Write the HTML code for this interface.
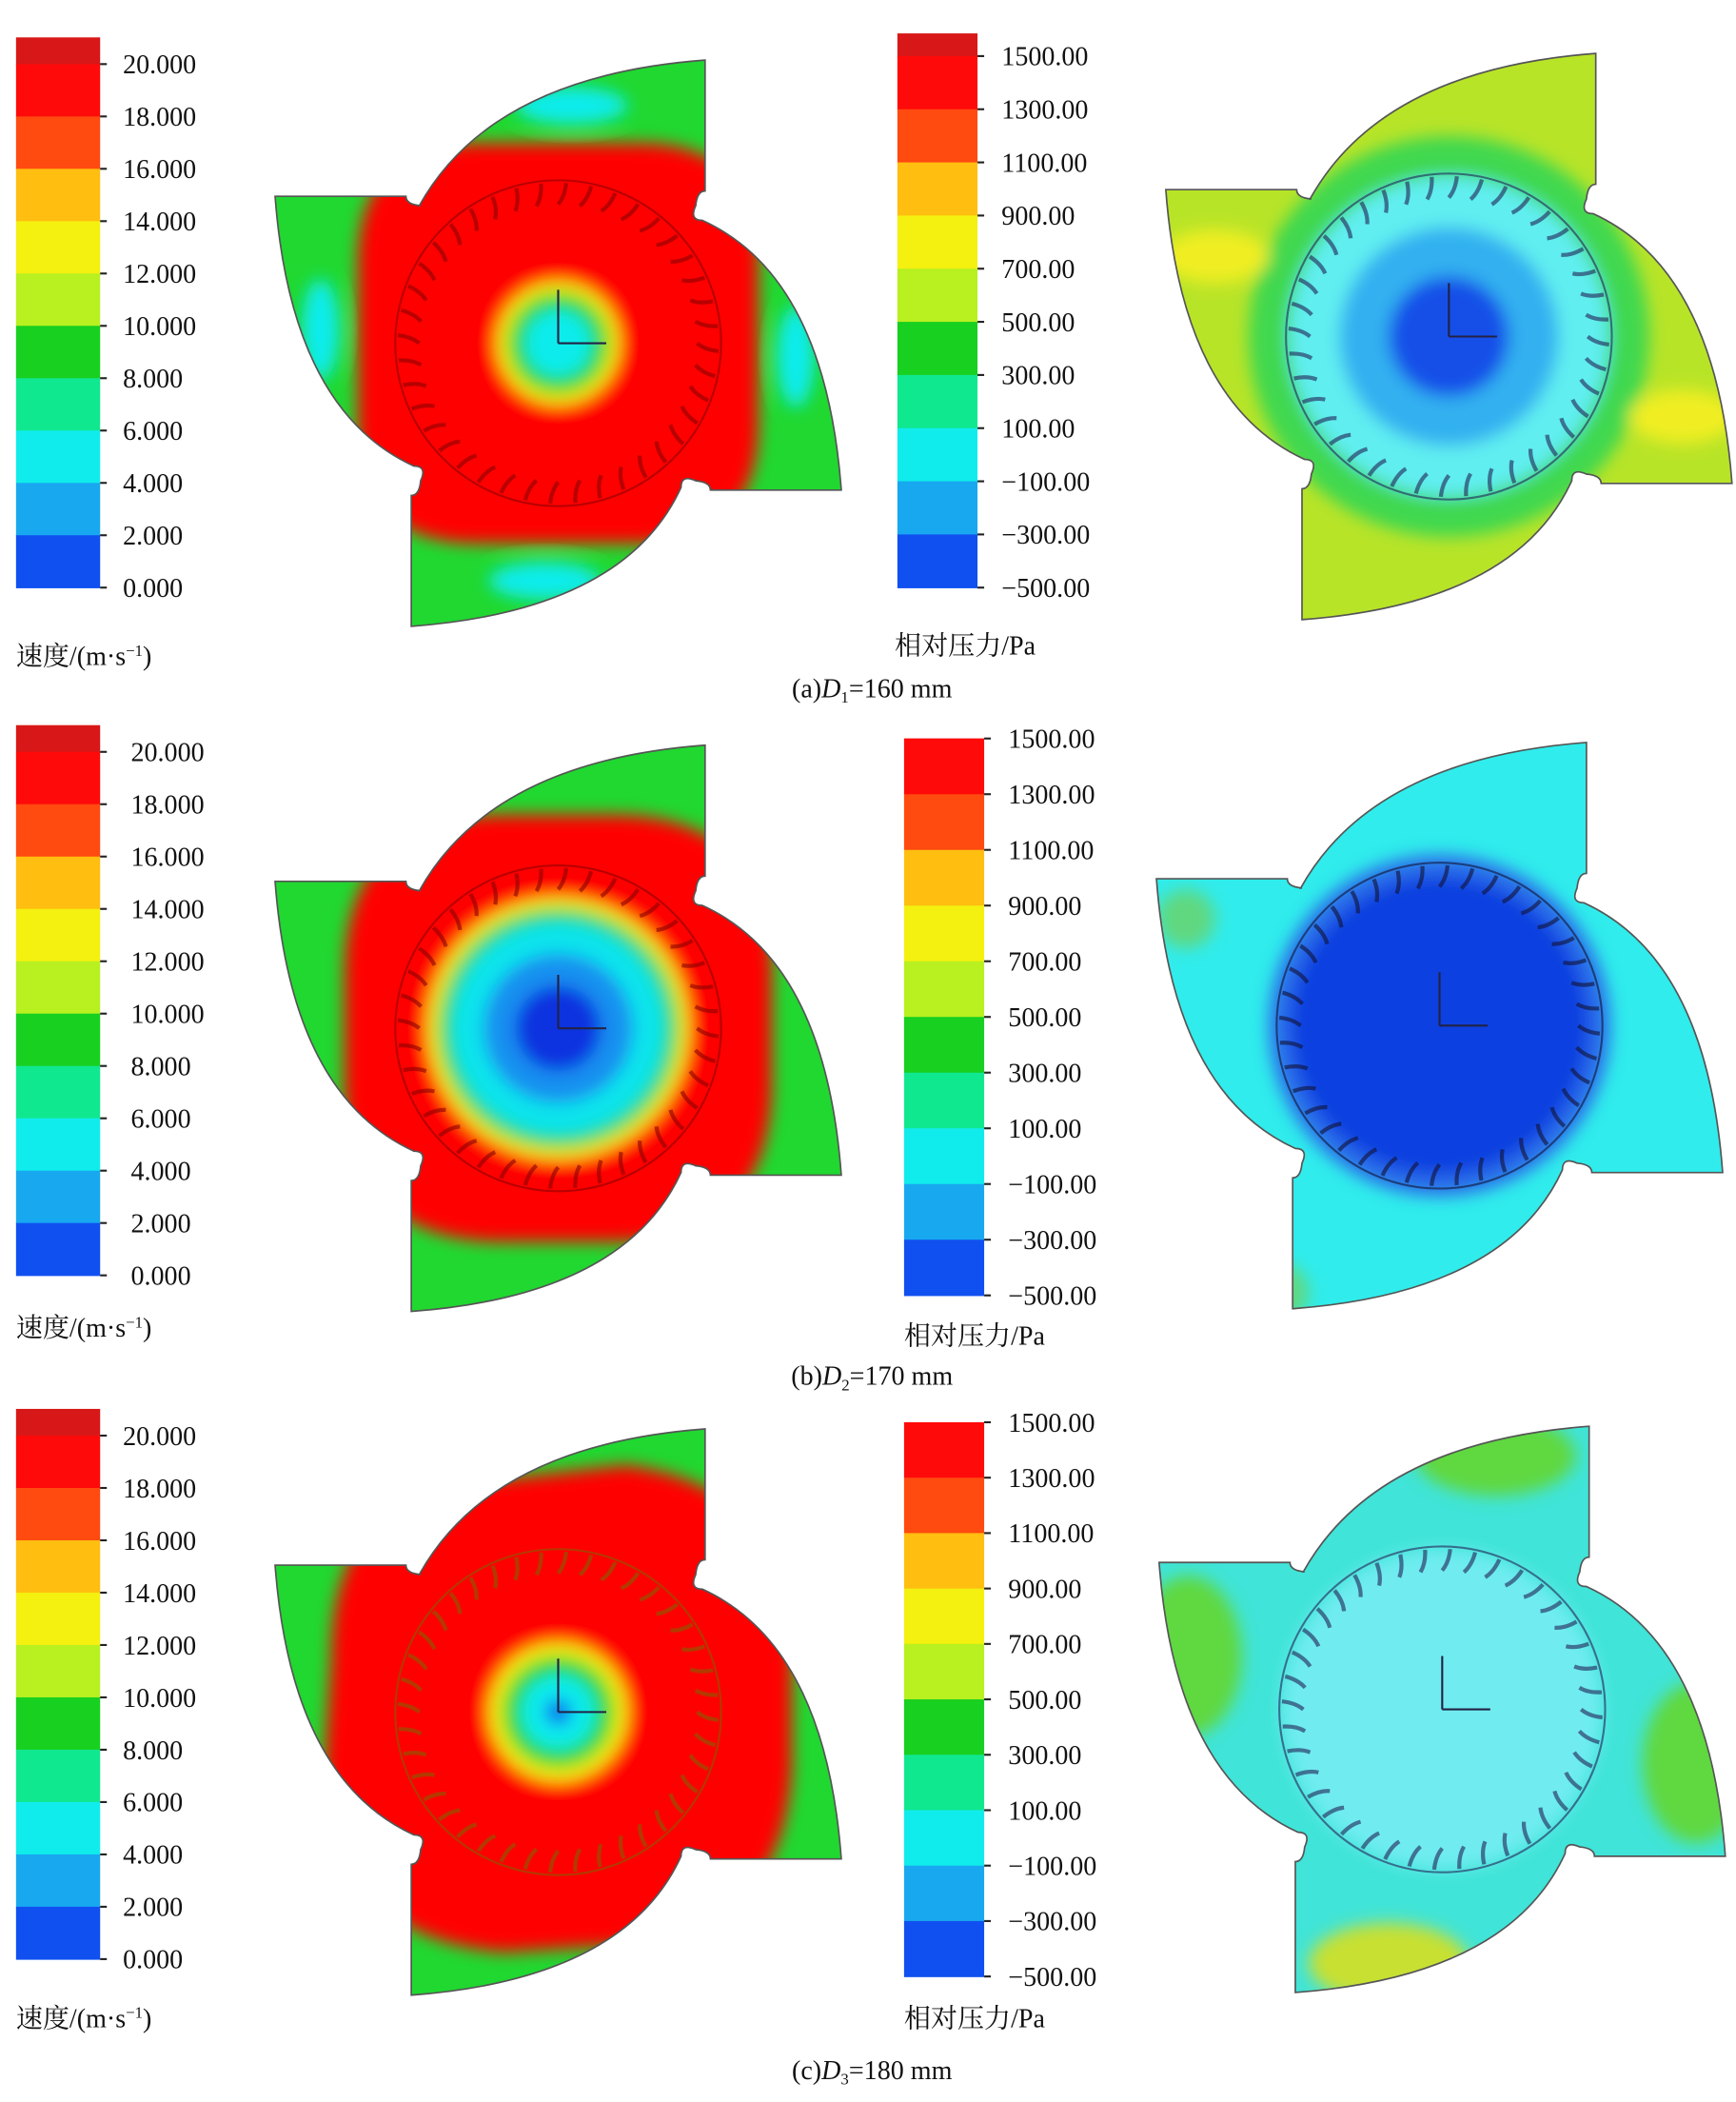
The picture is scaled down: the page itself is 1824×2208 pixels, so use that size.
<!DOCTYPE html>
<html><head><meta charset="utf-8"><style>
html,body{margin:0;padding:0;background:#fff}
svg{display:block}
text{font-family:"Liberation Serif","Noto Serif CJK SC",serif;fill:#111}
</style></head><body>
<svg id="fig" width="1824" height="2208" viewBox="0 0 1300 1574" preserveAspectRatio="none" xmlns="http://www.w3.org/2000/svg">
<defs>
<path id="casing" d="M-104,-103 Q-50,-200 110,-212 L110,-114 Q104,-114 103,-103 Q98,-92 108,-92 Q200,-50 212,110 L114,110 Q114,104 103,103 Q92,98 92,108 Q50,200 -110,212 L-110,114 Q-104,114 -103,103 Q-98,92 -108,92 Q-200,50 -212,-110 L-114,-110 Q-114,-104 -103,-103 Z"/>
<clipPath id="cc"><use href="#casing"/></clipPath>
<filter id="bl" x="-50%" y="-50%" width="200%" height="200%"><feGaussianBlur stdDeviation="6"/></filter>
</defs>
<g id="bars"></g>
<g id="panels"></g>
<g>
<text x="12" y="498" font-size="20">速度/(m·s<tspan dy="-7" font-size="12">−1</tspan><tspan dy="7">)</tspan></text>
<text x="670" y="490" font-size="20">相对压力/Pa</text>
<text x="653" y="522" font-size="20" text-anchor="middle">(a)<tspan font-style="italic">D</tspan><tspan font-size="12" dy="4">1</tspan><tspan dy="-4">=160 mm</tspan></text>
<text x="12" y="1001" font-size="20">速度/(m·s<tspan dy="-7" font-size="12">−1</tspan><tspan dy="7">)</tspan></text>
<text x="677" y="1007" font-size="20">相对压力/Pa</text>
<text x="653" y="1037" font-size="20" text-anchor="middle">(b)<tspan font-style="italic">D</tspan><tspan font-size="12" dy="4">2</tspan><tspan dy="-4">=170 mm</tspan></text>
<text x="12" y="1518" font-size="20">速度/(m·s<tspan dy="-7" font-size="12">−1</tspan><tspan dy="7">)</tspan></text>
<text x="677" y="1518" font-size="20">相对压力/Pa</text>
<text x="653" y="1557" font-size="20" text-anchor="middle">(c)<tspan font-style="italic">D</tspan><tspan font-size="12" dy="4">3</tspan><tspan dy="-4">=180 mm</tspan></text>
</g>
</svg>
<script>
const velocityTicks=["20.000","18.000","16.000","14.000","12.000","10.000","8.000","6.000","4.000","2.000","0.000"];
const pressureTicks=["1500.00","1300.00","1100.00","900.00","700.00","500.00","300.00","100.00","−100.00","−300.00","−500.00"];
const bandColors=["#d81818","#ff0a0a","#ff4a10","#ffbe10","#f4f010","#b8f020","#18d020","#10e890","#10ecec","#18a8f0","#1050f0","#0a14e0"];
const NS="http://www.w3.org/2000/svg";
function mk(tag,attrs,parent){const e=document.createElementNS(NS,tag);for(const k in attrs)e.setAttribute(k,attrs[k]);parent.appendChild(e);return e;}
const barSpecs=[[12,63,28,48,440,92,velocityTicks,"velocity-colorbar-a"],[672,60,25,42,440,750,pressureTicks,"pressure-colorbar-a"],
[12,63,543,563,955,98,velocityTicks,"velocity-colorbar-b"],[677,60,553,553,970,755,pressureTicks,"pressure-colorbar-b"],
[12,63,1055,1075,1467,92,velocityTicks,"velocity-colorbar-c"],[677,60,1065,1065,1480,755,pressureTicks,"pressure-colorbar-c"]];
const bars=document.getElementById('bars');
barSpecs.forEach(s=>{
 const [x,w,top,t0,t1,lx,ticks,name]=s;
 const g=mk('g',{},bars);
 
 
 const n=ticks.length-1, step=(t1-t0)/n;
 const ys=[top];for(let i=0;i<=n;i++)ys.push(t0+i*step);
 for(let i=0;i<ys.length-1;i++){
   const r=mk('rect',{x:x,y:ys[i],width:w,height:Math.max(0,ys[i+1]-ys[i])+0.5,fill:bandColors[i]},g);
   
   
 }
 ticks.forEach((t,i)=>{
  const y=t0+i*step;
  mk('line',{x1:x+w,x2:x+w+5,y1:y,y2:y,stroke:'#222','stroke-width':1.5},g);
  const tx=mk('text',{x:lx,y:y+7,'font-size':20},g);tx.textContent=t;
  
  
 });
});
const panels=document.getElementById('panels');
function panel(cx,cy,name,base,layers,bladeCol){
 const g=mk('g',{transform:`translate(${cx},${cy})`},panels);
 
 
 const c=mk('g',{'clip-path':'url(#cc)'},g);
 mk('rect',{x:-230,y:-230,width:460,height:460,fill:base},c);
 const b=mk('g',{filter:'url(#bl)'},c);
 layers.forEach(L=>{mk(L[0],L[1],b);});
 mk('circle',{r:122,fill:'none',stroke:bladeCol,'stroke-width':1.5,opacity:.6},c);
 for(let i=0;i<40;i++){const a=i*9;mk('path',{d:'M0,-104 q5,-6 6,-16',transform:`rotate(${a})`,stroke:bladeCol,'stroke-width':3,fill:'none',opacity:.6},c);}
 mk('use',{href:'#casing',fill:'none',stroke:'#555','stroke-width':1.2},g);
 mk('path',{d:'M0,0 V-40 M0,0 H36',stroke:'#224',fill:'none','stroke-width':1.5},g);
}
panel(418,257,'velocity-contour-a','#20d830',[
 ['path',{d:'M-150,-60 Q-150,-150 -60,-150 L60,-150 Q150,-150 150,-60 L150,60 Q150,150 60,150 L-60,150 Q-150,150 -150,60 Z',fill:'#ff0505'}],
 ['ellipse',{cx:-178,cy:-10,rx:14,ry:38,fill:'#10ecec'}],['ellipse',{cx:10,cy:-178,rx:42,ry:14,fill:'#10ecec'}],
 ['ellipse',{cx:178,cy:10,rx:14,ry:38,fill:'#10ecec'}],['ellipse',{cx:-10,cy:178,rx:42,ry:14,fill:'#10ecec'}],
 ['circle',{r:46,fill:'#f4f010'}],['circle',{r:38,fill:'#20d830'}],['circle',{r:25,fill:'#10ecec'}]],'#8a0000');
panel(1085,252,'pressure-contour-a','#b8e428',[
 ['circle',{r:150,fill:'#40d850'}],['circle',{r:120,fill:'#60eef0'}],['circle',{r:82,fill:'#30b0f0'}],['circle',{r:45,fill:'#1850e8'}],
 ['ellipse',{cx:-175,cy:-60,rx:40,ry:20,fill:'#f0ee20'}],['ellipse',{cx:175,cy:60,rx:40,ry:20,fill:'#f0ee20'}]],'#225');
panel(418,770,'velocity-contour-b','#20d830',[
 ['path',{d:'M-160,-40 Q-160,-160 -40,-160 L40,-160 Q160,-160 160,-40 L160,40 Q160,160 40,160 L-40,160 Q-160,160 -160,40 Z',fill:'#ff0505'}],
 ['circle',{r:98,fill:'#f4f010'}],['circle',{r:90,fill:'#20d860'}],['circle',{r:80,fill:'#10e4ec'}],['circle',{r:56,fill:'#1890f0'}],['circle',{r:32,fill:'#0a30e0'}]],'#8a0000');
panel(1078,768,'pressure-contour-b','#30ecec',[
 ['circle',{r:128,fill:'#2a70ea'}],['circle',{r:112,fill:'#1040e0'}],
 ['ellipse',{cx:-190,cy:-80,rx:22,ry:22,fill:'#60d880'}],['ellipse',{cx:-120,cy:200,rx:22,ry:22,fill:'#60d880'}]],'#113');
panel(418,1282,'velocity-contour-c','#20d830',[
 ['path',{d:'M-170,-40 Q-170,-175 -40,-175 L50,-185 Q175,-170 175,-40 L175,40 Q170,170 40,175 L-40,180 Q-170,170 -175,40 Z',fill:'#ff0505'}],
 ['circle',{r:52,fill:'#f4f010'}],['circle',{r:42,fill:'#20d830'}],['circle',{r:28,fill:'#10ecec'}],['circle',{r:10,fill:'#1070f0'}]],'#806000');
panel(1080,1280,'pressure-contour-c','#40e4d8',[
 ['ellipse',{cx:-190,cy:-40,rx:40,ry:60,fill:'#60d840'}],['ellipse',{cx:190,cy:40,rx:40,ry:60,fill:'#60d840'}],
 ['ellipse',{cx:40,cy:-190,rx:60,ry:30,fill:'#60d840'}],['ellipse',{cx:-40,cy:190,rx:60,ry:30,fill:'#c8e030'}],
 ['circle',{r:120,fill:'#70ecf0'}]],'#225');
</script>
</body></html>
